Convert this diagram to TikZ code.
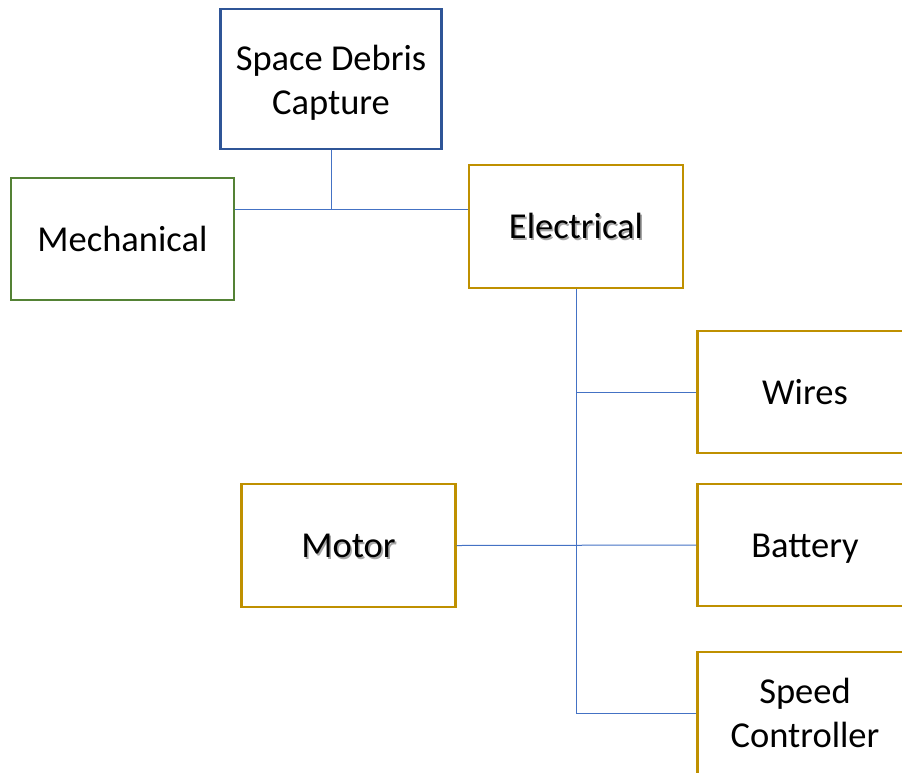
\documentclass[tikz,border=0pt]{standalone}
\usepackage{fontspec}
\setmainfont{Carlito}
\definecolor{bluebox}{HTML}{2F5597}
\definecolor{greenbox}{HTML}{548235}
\definecolor{goldbox}{HTML}{BF9000}
\definecolor{linkblue}{HTML}{4472C4}
\newcommand{\shadowtext}[1]{\makebox[0pt][l]{\raisebox{-1.6pt}{\hspace{1.6pt}\textcolor{black!35}{#1}}}#1}
\begin{document}
\begin{tikzpicture}[x=1pt,y=-1pt,
  box/.style={draw, line width=2.2pt, fill=white, minimum width=215pt, minimum height=122pt,
    inner sep=0pt, align=center, font=\fontsize{36.5}{43.5}\selectfont, text=black},
  oneline/.style={text height=24pt, text depth=0pt},
  link/.style={draw=linkblue, line width=1pt}]
\useasboundingbox (0,0) rectangle (902,772);
\clip (0,0) rectangle (902,772);
\node[box, draw=bluebox, minimum width=221pt, minimum height=140pt] (sdc) at (331,79) {\rule{0pt}{33pt}Space Debris\\Capture};
\node[box, oneline, draw=greenbox, minimum width=223pt] (mech) at (122.5,239) {Mechanical};
\node[box, oneline, draw=goldbox, minimum width=214pt, minimum height=123pt] (elec) at (576,226.5) {\shadowtext{Electrical}};
\node[box, oneline, draw=goldbox] (wires) at (805,392) {Wires};
\node[box, oneline, draw=goldbox] (batt) at (805,545) {Battery};
\node[box, draw=goldbox] (sc) at (805,713) {Speed\\Controller};
\node[box, oneline, draw=goldbox, minimum width=214pt, minimum height=123pt] (motor) at (348.5,545.5) {\shadowtext{Motor}};
\coordinate (j) at (331,209);
\draw[link] (sdc.south) -- (j);
\draw[link] (j -| mech.east) -- (j -| elec.west);
\draw[link] (elec.south) -- (elec.south |- sc.west);
\draw[link] (wires.west) -- (wires.west -| elec.south);
\draw[link] (motor.east) -- (batt.west);
\draw[link] (sc.west) -- (sc.west -| elec.south);
\end{tikzpicture}
\end{document}
